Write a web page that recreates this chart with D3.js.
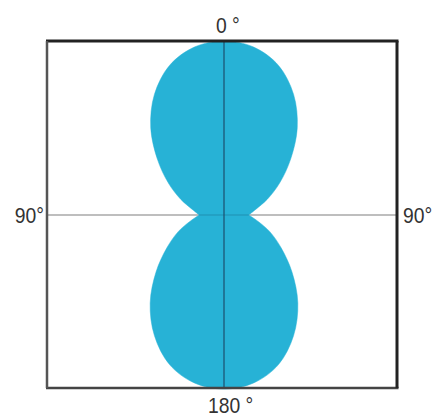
<!DOCTYPE html>
<html>
<head>
<meta charset="utf-8">
<script src="https://cdn.jsdelivr.net/npm/d3@7"></script>
<style>
  html, body { margin: 0; padding: 0; background: #fff; }
  svg { display: block; }
  text { font-family: "Liberation Sans", Arial, sans-serif; fill: #333; }
</style>
</head>
<body>
<script>
// Directional pattern readings (angle in degrees from top, relative radius)
const angles = [0,10,20,30,40,50,60,70,80,90,100,110,120,130,140,150,160,170,
                180,190,200,210,220,230,240,250,260,270,280,290,300,310,320,330,340,350];
const gain   = [1.00,0.98,0.915,0.80,0.655,0.50,0.37,0.265,0.185,0.142,0.195,0.28,0.38,0.51,0.66,0.80,0.915,0.98,
                1.00,0.98,0.915,0.80,0.66,0.51,0.38,0.28,0.195,0.142,0.185,0.265,0.37,0.50,0.655,0.80,0.915,0.98];
const tickAngles = [0, 90, 180, 270];
const tickLabels = ["0 °", "90°", "180 °", "90°"];

const W = 436, H = 417;
const box = {left: 47, right: 397, top: 41, bottom: 388};
const cx = 224, cy = 215;

const svg = d3.select("body").append("svg").attr("width", W).attr("height", H);

const r = d3.scaleLinear().domain([0, 1]).range([0, cy - box.top]);

const pts = angles.map((a, i) => ({a: a, g: gain[i]}));
// split into the two lobes (each runs from one 90° side to the other)
const upper = pts.filter(d => d.a >= 270).concat(pts.filter(d => d.a <= 90))
  .map(d => ({a: d.a >= 270 ? d.a - 360 : d.a, g: d.g}));
const lower = pts.filter(d => d.a >= 90 && d.a <= 270);

const line = d3.lineRadial()
  .angle(d => d.a * Math.PI / 180)
  .radius(d => r(d.g))
  .curve(d3.curveCatmullRom.alpha(0.5));

// horizontal reference line
svg.append("line")
  .attr("x1", box.left).attr("x2", box.right)
  .attr("y1", cy).attr("y2", cy)
  .attr("stroke", "#a8a8a8").attr("stroke-width", 1.5);

const g = svg.append("g").attr("transform", `translate(${cx},${cy})`);
g.selectAll("path.lobe")
  .data([upper, lower])
  .join("path")
  .attr("class", "lobe")
  .attr("d", d => line(d) + "Z")
  .attr("fill", "#27b2d6")
  .attr("stroke", "#27b2d6")
  .attr("stroke-width", 0.5);

// darker horizontal through lobe
svg.append("line")
  .attr("x1", cx - r(gain[27])).attr("x2", cx + r(gain[9]))
  .attr("y1", cy).attr("y2", cy)
  .attr("stroke", "#2090b2").attr("stroke-width", 1);

// vertical axis line
svg.append("line")
  .attr("x1", cx).attr("x2", cx)
  .attr("y1", box.top).attr("y2", box.bottom)
  .attr("stroke", "#1b4f6e").attr("stroke-width", 1.2);

// frame
svg.append("line").attr("x1", box.left - 1).attr("x2", box.right + 1.5)
  .attr("y1", box.top).attr("y2", box.top).attr("stroke", "#222").attr("stroke-width", 3);
svg.append("line").attr("x1", box.left - 1).attr("x2", box.right + 1.5)
  .attr("y1", box.bottom).attr("y2", box.bottom).attr("stroke", "#444").attr("stroke-width", 2.5);
svg.append("line").attr("x1", box.left).attr("x2", box.left)
  .attr("y1", box.top).attr("y2", box.bottom).attr("stroke", "#555").attr("stroke-width", 2.5);
svg.append("line").attr("x1", box.right).attr("x2", box.right)
  .attr("y1", box.top).attr("y2", box.bottom).attr("stroke", "#222").attr("stroke-width", 3);

// labels
const fs = 21;
const labelPos = {
  0:   {x: cx - 8,  y: 33,  anchor: "start"},
  90:  {x: box.right + 6, y: cy + 8, anchor: "start"},
  180: {x: cx - 16, y: 413, anchor: "start"},
  270: {x: box.left - 3, y: cy + 8, anchor: "end"}
};
svg.selectAll("text.tick")
  .data(tickAngles)
  .join("text")
  .attr("class", "tick")
  .attr("text-anchor", d => labelPos[d].anchor)
  .attr("font-size", fs)
  .attr("transform", d => `translate(${labelPos[d].x},${labelPos[d].y}) scale(0.92,1.08)`)
  .text((d, i) => tickLabels[i]);
</script>
</body>
</html>
